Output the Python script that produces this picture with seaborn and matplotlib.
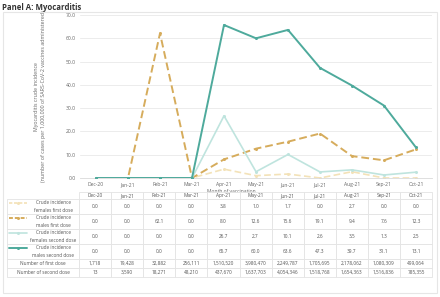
import numpy as np
import pandas as pd
import matplotlib
matplotlib.use("Agg")
import matplotlib.pyplot as plt
import seaborn as sns
from matplotlib.lines import Line2D
from matplotlib.patches import Rectangle

months = ["Dec-20", "Jan-21", "Feb-21", "Mar-21", "Apr-21", "May-21", "Jun-21",
          "Jul-21", "Aug-21", "Sep-21", "Oct-21"]
females_first = [0.0, 0.0, 0.0, 0.0, 3.8, 1.0, 1.7, 0.0, 2.7, 0.0, 0.0]
males_first = [0.0, 0.0, 62.1, 0.0, 8.0, 12.6, 15.6, 19.1, 9.4, 7.6, 12.3]
females_second = [0.0, 0.0, 0.0, 0.0, 26.7, 2.7, 10.1, 2.6, 3.5, 1.3, 2.5]
males_second = [0.0, 0.0, 0.0, 0.0, 65.7, 60.0, 63.6, 47.3, 39.7, 31.1, 13.1]
n_first = ["1,718", "19,428", "32,882", "256,111", "1,510,520", "3,980,470", "2,249,787",
           "1,705,695", "2,178,062", "1,080,309", "499,064"]
n_second = ["13", "3,590", "18,271", "48,210", "437,670", "1,637,703", "4,054,346",
            "1,518,768", "1,654,363", "1,516,836", "785,355"]

series = ["Crude incidence\nfemales first dose", "Crude incidence\nmales first dose",
          "Crude incidence\nfemales second dose", "Crude incidence\nmales second dose"]
values = [females_first, males_first, females_second, males_second]
colors = ["#f3e2b8", "#d6ac5c", "#bfe4de", "#4eaa9c"]
dashes = [(4, 2), (4, 2), "", ""]
widths = [1.2, 1.4, 1.2, 1.4]

df = pd.DataFrame({
    "month": np.tile(np.arange(len(months)), len(series)),
    "value": np.concatenate(values),
    "series": np.repeat(series, len(months)),
})

sns.set_style("white")
plt.rcParams["font.family"] = ["Open Sans", "DejaVu Sans"]
fig = plt.figure(figsize=(4.4, 2.97), dpi=100)
W, H = 440, 297

# outer frame
fig.patches.append(Rectangle((3 / W, 1 - 293 / H), 434 / W, 281 / H, transform=fig.transFigure,
                             fill=False, edgecolor="#e6e6e6", linewidth=0.8))
fig.text(2 / W, 1 - 7 / H, "Panel A: Myocarditis", fontsize=5.6, fontweight="bold",
         color="#333333", va="center", ha="left")

ax = fig.add_axes([80 / W, 1 - 178 / H, 352 / W, 163 / H])
sns.lineplot(data=df, x="month", y="value", hue="series", style="series", ax=ax,
             hue_order=series, style_order=series,
             palette=dict(zip(series, colors)), dashes=dict(zip(series, dashes)),
             markers={s: "o" for s in series}, markersize=2.2, markeredgewidth=0,
             legend=False)
for line, w in zip(ax.lines, widths):
    line.set_linewidth(w)
ax.lines[3].set_zorder(3)

ax.set_xlim(-0.5, len(months) - 0.5)
ax.set_ylim(0, 70)
ax.set_yticks(np.arange(0, 71, 10))
ax.set_yticklabels([f"{v:.1f}" for v in np.arange(0, 71, 10)], fontsize=3.6, color="#666666")
ax.set_xticks(np.arange(len(months)))
ax.set_xticklabels(months, fontsize=3.6, color="#666666")
ax.tick_params(length=0, pad=3)
ax.grid(axis="y", color="#ececec", linewidth=0.7)
ax.set_axisbelow(True)
for sp in ["top", "right", "left"]:
    ax.spines[sp].set_visible(False)
ax.spines["bottom"].set_color("#d9d9d9")
ax.spines["bottom"].set_linewidth(0.6)
ax.set_xlabel("Month of vaccination", fontsize=3.6, color="#666666", labelpad=0)
ax.xaxis.set_label_coords(0.43, -0.065)
ax.set_ylabel("Myocarditis crude incidence\n(number of cases per 1,000,000 of SARS-CoV-2 vaccines administered)",
              fontsize=3.8, color="#666666", labelpad=14, linespacing=1.5)

# data table below the chart
tax = fig.add_axes([7 / W, 1 - 277 / H, 425 / W, 85 / H])
tax.set_axis_off()
rows = [[""] + months]
for v in values:
    rows.append([""] + [f"{x:.1f}" for x in v])
rows.append(["Number of first dose"] + n_first)
rows.append(["Number of second dose"] + n_second)
col_w = [72 / 425] + [32 / 425] * len(months)
tbl = tax.table(cellText=rows, colWidths=col_w, loc="upper left", bbox=[0, 0, 1, 1],
                cellLoc="center")
tbl.auto_set_font_size(False)
row_h = [7, 15, 15, 15, 15, 9, 9]
for (r, c), cell in tbl.get_celld().items():
    cell.set_height(row_h[r] / 85)
    cell.set_edgecolor("#e3e3e3")
    cell.set_linewidth(0.6)
    cell.get_text().set_fontsize(3.4)
    cell.get_text().set_color("#555555")
    if r == 0 and c == 0:
        cell.set_edgecolor("white")
    if r >= 5 and c == 0:
        cell._loc = "right"
        cell.PAD = 0.04

# row labels with legend glyphs inside the first table column
ytop = 1 - 192 / H - 7 / H
for i, (s, c, d, w) in enumerate(zip(series, colors, dashes, widths)):
    yc = ytop - (15 * i + 4) / H
    ln = Line2D([9 / W, 27 / W], [yc, yc], transform=fig.transFigure, color=c, linewidth=w)
    mk = Line2D([18 / W], [yc], transform=fig.transFigure, color=c, marker="o", markersize=2.2,
                markeredgewidth=0)
    if d:
        ln.set_dashes((2, 1))
    fig.add_artist(ln)
    fig.add_artist(mk)
    fig.text(53 / W, ytop - (15 * i + 7.5) / H, s, fontsize=3.4, color="#555555",
             ha="center", va="center", linespacing=1.7)

fig.savefig("out.png", dpi=100)
